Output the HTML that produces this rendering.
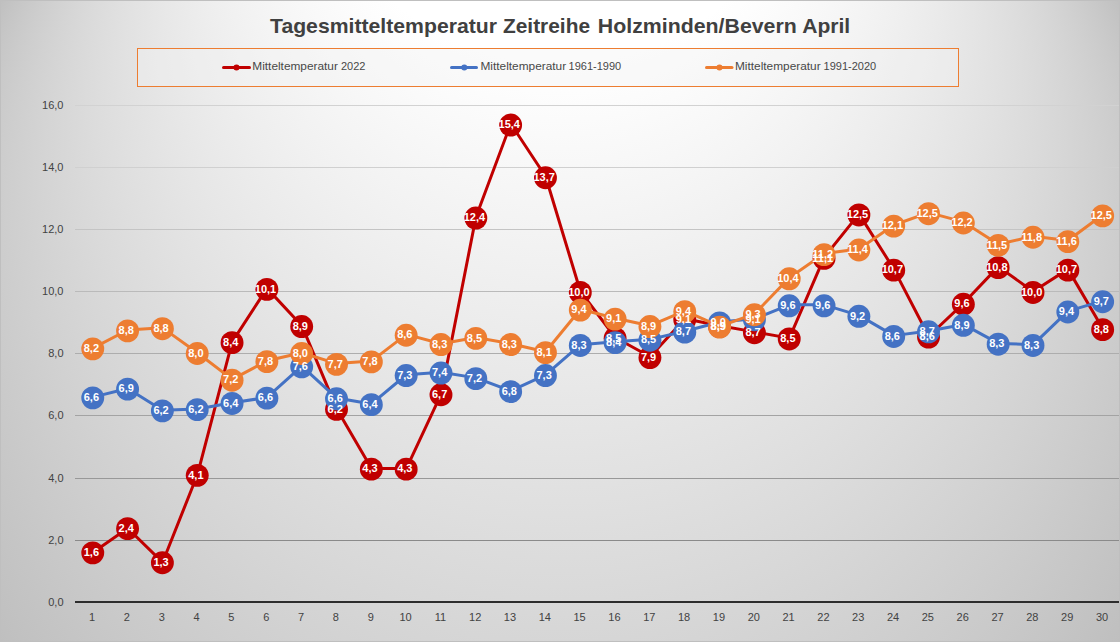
<!DOCTYPE html>
<html><head><meta charset="utf-8"><title>Tagesmitteltemperatur Zeitreihe Holzminden/Bevern April</title>
<style>
html,body{margin:0;padding:0;background:#fff;}
body{width:1120px;height:642px;overflow:hidden;font-family:"Liberation Sans",sans-serif;background:radial-gradient(ellipse 785px 1184px at 560px -211px,#fff 25.3%,#bfbfbf 100%);}
svg{display:block;}
svg text{font-family:"Liberation Sans",sans-serif;}
.ti text{font-weight:bold;font-size:20.6px;fill:#404040;}
.lg text{font-size:11px;fill:#484848;}
.dl text{font-weight:bold;font-size:11px;fill:#fff;text-anchor:middle;}
.xl text{font-size:11px;fill:#424242;text-anchor:middle;}
.yl text{font-size:11px;fill:#424242;text-anchor:end;}
</style></head><body>
<svg width="1120" height="642" viewBox="0 0 1120 642">
<defs><radialGradient id="bgg" gradientUnits="userSpaceOnUse" gradientTransform="translate(560 321.00) scale(645.48 645.48)" cx="0" cy="-0.90509" r="0.3" fx="0" fy="0" fr="1"><stop offset="0" stop-color="#bfbfbf"/><stop offset="0.87143" stop-color="#ffffff"/><stop offset="1" stop-color="#ffffff"/></radialGradient></defs>
<rect x="0" y="0" width="1120" height="642" fill="url(#bgg)"/>
<rect x="0.5" y="0.5" width="1119" height="641" fill="none" stroke="#bfbfbf" stroke-width="1"/>
<g class="ti">
<text x="270" y="32.5" textLength="227" lengthAdjust="spacingAndGlyphs">Tagesmitteltemperatur</text>
<text x="503" y="32.5" textLength="87" lengthAdjust="spacingAndGlyphs">Zeitreihe</text>
<text x="597.8" y="32.5" textLength="199" lengthAdjust="spacingAndGlyphs">Holzminden/Bevern</text>
<text x="802.2" y="32.5" textLength="48" lengthAdjust="spacingAndGlyphs">April</text>
</g>
<rect x="137.5" y="48.5" width="821" height="38" fill="rgba(242,242,242,0.39)" stroke="#ED7D31" stroke-width="1"/>
<g stroke-width="3" stroke-linecap="round">
<line x1="223.5" x2="249.5" y1="67.5" y2="67.5" stroke="#C00000"/><circle cx="236.5" cy="67.5" r="3.05" fill="#C00000"/>
<line x1="451.5" x2="476.5" y1="67.5" y2="67.5" stroke="#4472C4"/><circle cx="464.3" cy="67.5" r="3.05" fill="#4472C4"/>
<line x1="706.5" x2="732" y1="67.5" y2="67.5" stroke="#ED7D31"/><circle cx="719.5" cy="67.5" r="3.05" fill="#ED7D31"/>
</g>
<g class="lg">
<text x="252.3" y="70" textLength="85.6" lengthAdjust="spacingAndGlyphs">Mitteltemperatur</text><text x="340.9" y="70">2022</text>
<text x="480.5" y="70" textLength="85.6" lengthAdjust="spacingAndGlyphs">Mitteltemperatur</text><text x="568.6" y="70">1961-1990</text>
<text x="735.0" y="70" textLength="85.6" lengthAdjust="spacingAndGlyphs">Mitteltemperatur</text><text x="823.6" y="70">1991-2020</text>
</g>
<rect x="75" y="540" width="1044" height="1" fill="#8a8a8a"/>
<rect x="75" y="478" width="1044" height="1" fill="#989898"/>
<rect x="75" y="415" width="1044" height="1" fill="#a3a3a3"/>
<rect x="75" y="353" width="1044" height="1" fill="#adadad"/>
<rect x="75" y="291" width="1044" height="1" fill="#bababa"/>
<rect x="75" y="229" width="1044" height="1" fill="#c4c4c4"/>
<rect x="75" y="167" width="1044" height="1" fill="#d0d0d0"/>
<rect x="75" y="105" width="1044" height="1" fill="#d2d2d2"/>
<rect x="75" y="601" width="1044" height="2" fill="#2d2d2d"/>
<polyline points="92.90,552.49 127.72,528.25 162.55,562.43 197.37,474.81 232.20,341.83 267.02,288.39 301.84,325.68 336.67,408.63 371.49,468.60 406.32,468.60 441.14,394.03 475.96,216.93 510.79,123.72 545.61,176.54 580.44,291.50 615.26,337.48 650.08,356.75 684.91,318.84 719.73,325.68 754.56,331.89 789.38,338.11 824.20,257.32 859.03,213.83 893.85,269.13 928.68,336.24 963.50,303.31 998.32,266.64 1033.15,291.50 1067.97,269.13 1102.80,328.78" fill="none" stroke="#C00000" stroke-width="3.0" stroke-linejoin="round" stroke-linecap="round"/>
<g fill="#C00000"><circle cx="92.75" cy="552.85" r="11.45"/><circle cx="127.57" cy="528.67" r="11.45"/><circle cx="162.40" cy="562.77" r="11.45"/><circle cx="197.22" cy="475.35" r="11.45"/><circle cx="232.05" cy="342.67" r="11.45"/><circle cx="266.87" cy="289.35" r="11.45"/><circle cx="301.69" cy="326.55" r="11.45"/><circle cx="336.52" cy="409.32" r="11.45"/><circle cx="371.34" cy="469.15" r="11.45"/><circle cx="406.17" cy="469.15" r="11.45"/><circle cx="440.99" cy="394.75" r="11.45"/><circle cx="475.81" cy="218.05" r="11.45"/><circle cx="510.64" cy="125.05" r="11.45"/><circle cx="545.46" cy="177.75" r="11.45"/><circle cx="580.29" cy="292.45" r="11.45"/><circle cx="615.11" cy="338.33" r="11.45"/><circle cx="649.93" cy="357.55" r="11.45"/><circle cx="684.76" cy="319.73" r="11.45"/><circle cx="719.58" cy="326.55" r="11.45"/><circle cx="754.41" cy="332.75" r="11.45"/><circle cx="789.23" cy="338.95" r="11.45"/><circle cx="824.05" cy="258.35" r="11.45"/><circle cx="858.88" cy="214.95" r="11.45"/><circle cx="893.70" cy="270.13" r="11.45"/><circle cx="928.53" cy="337.09" r="11.45"/><circle cx="963.35" cy="304.23" r="11.45"/><circle cx="998.17" cy="267.65" r="11.45"/><circle cx="1033.00" cy="292.45" r="11.45"/><circle cx="1067.82" cy="270.13" r="11.45"/><circle cx="1102.65" cy="329.65" r="11.45"/></g>
<polyline points="92.90,397.14 127.72,388.44 162.55,410.19 197.37,408.94 232.20,402.73 267.02,397.45 301.84,366.07 336.67,398.07 371.49,403.97 406.32,374.77 441.14,372.28 475.96,377.87 510.79,390.92 545.61,374.77 580.44,344.63 615.26,341.83 650.08,339.35 684.91,331.27 719.73,321.95 754.56,318.84 789.38,304.86 824.20,304.86 859.03,315.42 893.85,335.62 928.68,330.96 963.50,324.43 998.32,343.39 1033.15,344.63 1067.97,311.07 1102.80,300.82" fill="none" stroke="#4472C4" stroke-width="3.0" stroke-linejoin="round" stroke-linecap="round"/>
<g fill="#4472C4"><circle cx="92.75" cy="397.85" r="11.45"/><circle cx="127.57" cy="389.17" r="11.45"/><circle cx="162.40" cy="410.87" r="11.45"/><circle cx="197.22" cy="409.63" r="11.45"/><circle cx="232.05" cy="403.43" r="11.45"/><circle cx="266.87" cy="398.16" r="11.45"/><circle cx="301.69" cy="366.85" r="11.45"/><circle cx="336.52" cy="398.78" r="11.45"/><circle cx="371.34" cy="404.67" r="11.45"/><circle cx="406.17" cy="375.53" r="11.45"/><circle cx="440.99" cy="373.05" r="11.45"/><circle cx="475.81" cy="378.63" r="11.45"/><circle cx="510.64" cy="391.65" r="11.45"/><circle cx="545.46" cy="375.53" r="11.45"/><circle cx="580.29" cy="345.46" r="11.45"/><circle cx="615.11" cy="342.67" r="11.45"/><circle cx="649.93" cy="340.19" r="11.45"/><circle cx="684.76" cy="332.13" r="11.45"/><circle cx="719.58" cy="322.83" r="11.45"/><circle cx="754.41" cy="319.73" r="11.45"/><circle cx="789.23" cy="305.78" r="11.45"/><circle cx="824.05" cy="305.78" r="11.45"/><circle cx="858.88" cy="316.32" r="11.45"/><circle cx="893.70" cy="336.47" r="11.45"/><circle cx="928.53" cy="331.82" r="11.45"/><circle cx="963.35" cy="325.31" r="11.45"/><circle cx="998.17" cy="344.22" r="11.45"/><circle cx="1033.00" cy="345.46" r="11.45"/><circle cx="1067.82" cy="311.98" r="11.45"/><circle cx="1102.65" cy="301.75" r="11.45"/></g>
<polyline points="92.90,348.05 127.72,330.03 162.55,327.85 197.37,352.71 232.20,379.43 267.02,360.79 301.84,352.71 336.67,363.58 371.49,361.10 406.32,334.38 441.14,343.70 475.96,337.48 510.79,343.70 545.61,351.78 580.44,309.21 615.26,318.22 650.08,325.68 684.91,310.76 719.73,326.30 754.56,313.87 789.38,277.83 824.20,253.59 859.03,248.93 893.85,225.01 928.68,212.58 963.50,221.90 998.32,244.27 1033.15,236.20 1067.97,240.55 1102.80,214.76" fill="none" stroke="#ED7D31" stroke-width="3.0" stroke-linejoin="round" stroke-linecap="round"/>
<g fill="#ED7D31"><circle cx="92.75" cy="348.87" r="11.45"/><circle cx="127.57" cy="330.89" r="11.45"/><circle cx="162.40" cy="328.72" r="11.45"/><circle cx="197.22" cy="353.52" r="11.45"/><circle cx="232.05" cy="380.18" r="11.45"/><circle cx="266.87" cy="361.58" r="11.45"/><circle cx="301.69" cy="353.52" r="11.45"/><circle cx="336.52" cy="364.37" r="11.45"/><circle cx="371.34" cy="361.89" r="11.45"/><circle cx="406.17" cy="335.23" r="11.45"/><circle cx="440.99" cy="344.53" r="11.45"/><circle cx="475.81" cy="338.33" r="11.45"/><circle cx="510.64" cy="344.53" r="11.45"/><circle cx="545.46" cy="352.59" r="11.45"/><circle cx="580.29" cy="310.12" r="11.45"/><circle cx="615.11" cy="319.11" r="11.45"/><circle cx="649.93" cy="326.55" r="11.45"/><circle cx="684.76" cy="311.67" r="11.45"/><circle cx="719.58" cy="327.17" r="11.45"/><circle cx="754.41" cy="314.77" r="11.45"/><circle cx="789.23" cy="278.81" r="11.45"/><circle cx="824.05" cy="254.63" r="11.45"/><circle cx="858.88" cy="249.98" r="11.45"/><circle cx="893.70" cy="226.11" r="11.45"/><circle cx="928.53" cy="213.71" r="11.45"/><circle cx="963.35" cy="223.01" r="11.45"/><circle cx="998.17" cy="245.33" r="11.45"/><circle cx="1033.00" cy="237.27" r="11.45"/><circle cx="1067.82" cy="241.61" r="11.45"/><circle cx="1102.65" cy="215.88" r="11.45"/></g>
<g class="dl"><text x="91.40" y="556.10">1,6</text><text x="126.22" y="531.92">2,4</text><text x="161.05" y="566.02">1,3</text><text x="195.87" y="478.60">4,1</text><text x="230.70" y="345.92">8,4</text><text x="265.52" y="292.60">10,1</text><text x="300.34" y="329.80">8,9</text><text x="335.17" y="412.57">6,2</text><text x="369.99" y="472.40">4,3</text><text x="404.82" y="472.40">4,3</text><text x="439.64" y="398.00">6,7</text><text x="474.46" y="221.30">12,4</text><text x="509.29" y="128.30">15,4</text><text x="544.11" y="181.00">13,7</text><text x="578.94" y="295.70">10,0</text><text x="613.76" y="341.58">8,5</text><text x="648.58" y="360.80">7,9</text><text x="683.41" y="322.98">9,1</text><text x="718.23" y="329.80">8,9</text><text x="753.06" y="336.00">8,7</text><text x="787.88" y="342.20">8,5</text><text x="822.70" y="261.60">11,1</text><text x="857.53" y="218.20">12,5</text><text x="892.35" y="273.38">10,7</text><text x="927.18" y="340.34">8,6</text><text x="962.00" y="307.48">9,6</text><text x="996.82" y="270.90">10,8</text><text x="1031.65" y="295.70">10,0</text><text x="1066.47" y="273.38">10,7</text><text x="1101.30" y="332.90">8,8</text><text x="91.40" y="401.10">6,6</text><text x="126.22" y="392.42">6,9</text><text x="161.05" y="414.12">6,2</text><text x="195.87" y="412.88">6,2</text><text x="230.70" y="406.68">6,4</text><text x="265.52" y="401.41">6,6</text><text x="300.34" y="370.10">7,6</text><text x="335.17" y="402.03">6,6</text><text x="369.99" y="407.92">6,4</text><text x="404.82" y="378.78">7,3</text><text x="439.64" y="376.30">7,4</text><text x="474.46" y="381.88">7,2</text><text x="509.29" y="394.90">6,8</text><text x="544.11" y="378.78">7,3</text><text x="578.94" y="348.71">8,3</text><text x="613.76" y="345.92">8,4</text><text x="648.58" y="343.44">8,5</text><text x="683.41" y="335.38">8,7</text><text x="718.23" y="326.08">9,0</text><text x="753.06" y="322.98">9,1</text><text x="787.88" y="309.03">9,6</text><text x="822.70" y="309.03">9,6</text><text x="857.53" y="319.57">9,2</text><text x="892.35" y="339.72">8,6</text><text x="927.18" y="335.07">8,7</text><text x="962.00" y="328.56">8,9</text><text x="996.82" y="347.47">8,3</text><text x="1031.65" y="348.71">8,3</text><text x="1066.47" y="315.23">9,4</text><text x="1101.30" y="305.00">9,7</text><text x="91.40" y="352.12">8,2</text><text x="126.22" y="334.14">8,8</text><text x="161.05" y="331.97">8,8</text><text x="195.87" y="356.77">8,0</text><text x="230.70" y="383.43">7,2</text><text x="265.52" y="364.83">7,8</text><text x="300.34" y="356.77">8,0</text><text x="335.17" y="367.62">7,7</text><text x="369.99" y="365.14">7,8</text><text x="404.82" y="338.48">8,6</text><text x="439.64" y="347.78">8,3</text><text x="474.46" y="341.58">8,5</text><text x="509.29" y="347.78">8,3</text><text x="544.11" y="355.84">8,1</text><text x="578.94" y="313.37">9,4</text><text x="613.76" y="322.36">9,1</text><text x="648.58" y="329.80">8,9</text><text x="683.41" y="314.92">9,4</text><text x="718.23" y="330.42">8,9</text><text x="753.06" y="318.02">9,3</text><text x="787.88" y="282.06">10,4</text><text x="822.70" y="257.88">11,2</text><text x="857.53" y="253.23">11,4</text><text x="892.35" y="229.36">12,1</text><text x="927.18" y="216.96">12,5</text><text x="962.00" y="226.26">12,2</text><text x="996.82" y="248.58">11,5</text><text x="1031.65" y="240.52">11,8</text><text x="1066.47" y="244.86">11,6</text><text x="1101.30" y="219.13">12,5</text></g>
<g class="xl"><text x="92.10" y="621">1</text><text x="126.92" y="621">2</text><text x="161.75" y="621">3</text><text x="196.57" y="621">4</text><text x="231.40" y="621">5</text><text x="266.22" y="621">6</text><text x="301.04" y="621">7</text><text x="335.87" y="621">8</text><text x="370.69" y="621">9</text><text x="405.52" y="621">10</text><text x="440.34" y="621">11</text><text x="475.16" y="621">12</text><text x="509.99" y="621">13</text><text x="544.81" y="621">14</text><text x="579.64" y="621">15</text><text x="614.46" y="621">16</text><text x="649.28" y="621">17</text><text x="684.11" y="621">18</text><text x="718.93" y="621">19</text><text x="753.76" y="621">20</text><text x="788.58" y="621">21</text><text x="823.40" y="621">22</text><text x="858.23" y="621">23</text><text x="893.05" y="621">24</text><text x="927.88" y="621">25</text><text x="962.70" y="621">26</text><text x="997.52" y="621">27</text><text x="1032.35" y="621">28</text><text x="1067.17" y="621">29</text><text x="1102.00" y="621">30</text></g>
<g class="yl"><text x="63.5" y="605.60">0,0</text><text x="63.5" y="544.10">2,0</text><text x="63.5" y="482.10">4,0</text><text x="63.5" y="419.10">6,0</text><text x="63.5" y="357.10">8,0</text><text x="63.5" y="295.10">10,0</text><text x="63.5" y="233.10">12,0</text><text x="63.5" y="171.10">14,0</text><text x="63.5" y="109.10">16,0</text></g>
</svg>
</body></html>
